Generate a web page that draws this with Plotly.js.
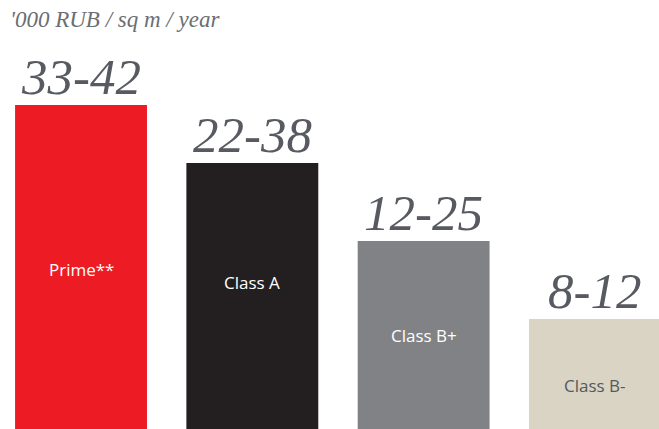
<!DOCTYPE html>
<html><head><meta charset="utf-8">
<script src="https://cdn.plot.ly/plotly-3.0.1.min.js"></script>
<style>html,body{margin:0;padding:0;background:#fff;overflow:hidden}</style>
</head><body><div id="chart" style="width:659px;height:429px"></div>
<script>
// Data
const categories = ['Prime**', 'Class A', 'Class B+', 'Class B-'];
const rangeLabels = ['33-42', '22-38', '12-25', '8-12'];
const barHeights = [32.4, 26.6, 18.8, 11.0];   // relative bar heights (arbitrary units)
const unitTitle = "'000 RUB / sq m / year";

const barColors = ['#ED1C24', '#231F20', '#818285', '#DAD4C4'];
const innerTextColors = ['#ffffff', '#ffffff', '#ffffff', '#55585e'];
const innerShift = [-2, 14, 0, -11];

const xs = categories.map((_, i) => i);

const trace = {
  type: 'bar',
  x: xs,
  y: barHeights,
  width: 0.77,
  marker: {color: barColors, line: {width: 0}},
  hoverinfo: 'skip'
};

const annotations = [];
xs.forEach((x, i) => {
  annotations.push({
    x: x, y: barHeights[i], xref: 'x', yref: 'y',
    text: rangeLabels[i], showarrow: false,
    yanchor: 'bottom', xanchor: 'center', yshift: -2,
    font: {family: 'Liberation Serif, Times New Roman, serif', style: 'italic', size: 51, color: '#575a61'}
  });
  annotations.push({
    x: x, y: barHeights[i] / 2, xref: 'x', yref: 'y',
    text: categories[i], showarrow: false,
    yanchor: 'middle', xanchor: 'center', yshift: innerShift[i],
    font: {family: 'Open Sans, sans-serif', size: 17, color: innerTextColors[i]}
  });
});
annotations.push({
  xref: 'paper', yref: 'paper', x: 0, y: 1,
  xanchor: 'left', yanchor: 'top', xshift: 8, yshift: -5,
  text: unitTitle, showarrow: false,
  font: {family: 'Liberation Serif, Times New Roman, serif', style: 'italic', size: 23, color: '#6b6e73'}
});

const layout = {
  width: 659, height: 429,
  margin: {l: 0, r: 0, t: 0, b: 0},
  paper_bgcolor: '#ffffff', plot_bgcolor: '#ffffff',
  showlegend: false,
  xaxis: {range: [-0.473, 3.374], visible: false, fixedrange: true},
  yaxis: {range: [0, 42.9], visible: false, fixedrange: true},
  annotations: annotations
};

Plotly.newPlot('chart', [trace], layout, {displayModeBar: false, staticPlot: true});
</script>
</body></html>
